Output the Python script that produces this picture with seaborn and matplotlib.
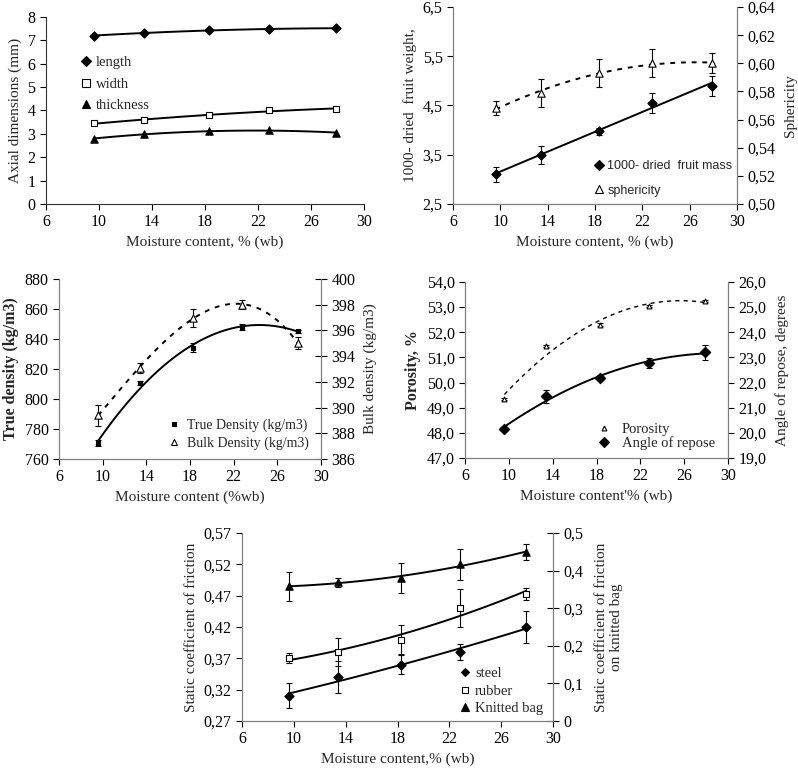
import numpy as np
import pandas as pd
import matplotlib
matplotlib.use("Agg")
import matplotlib.pyplot as plt
from matplotlib.lines import Line2D
from matplotlib.ticker import FuncFormatter
import seaborn as sns

# moisture content levels (% wb)
moisture = [9.6, 13.4, 18.3, 22.8, 27.9]

# axial dimensions (mm)
length = [7.20, 7.32, 7.42, 7.48, 7.52]
width = [3.45, 3.58, 3.80, 4.00, 4.07]
thickness = [2.80, 2.98, 3.10, 3.15, 3.05]

# 1000 fruit mass and sphericity
mass = [3.10, 3.50, 3.98, 4.55, 4.90]
mass_err = [0.15, 0.18, 0.07, 0.20, 0.20]
spher = [0.568, 0.579, 0.593, 0.600, 0.600]
spher_err = [0.005, 0.010, 0.010, 0.010, 0.007]

# densities
true_dens = [770.5, 810.5, 834.0, 848.3, 845.3]
true_err = [2.0, 1.5, 3.0, 2.0, 1.0]
bulk_dens = [389.4, 393.1, 397.0, 398.0, 395.0]
bulk_err = [0.8, 0.4, 0.7, 0.35, 0.45]

# porosity and angle of repose
porosity = [49.35, 51.45, 52.30, 53.05, 53.25]
poro_err = [0.03, 0.05, 0.05, 0.05, 0.03]
repose = [20.15, 21.45, 22.20, 22.78, 23.20]
repose_err = [0.05, 0.25, 0.10, 0.20, 0.30]

# static friction
steel = [0.310, 0.340, 0.360, 0.380, 0.420]
steel_err = [0.020, 0.025, 0.015, 0.013, 0.025]
rubber = [0.370, 0.380, 0.400, 0.450, 0.473]
rubber_err = [0.008, 0.022, 0.023, 0.030, 0.010]
knitted = [0.358, 0.369, 0.380, 0.417, 0.449]
knitted_err = [0.039, 0.012, 0.039, 0.041, 0.022]

sns.set_style("ticks")
plt.rcParams['font.family'] = ['Liberation Serif', 'DejaVu Serif']
plt.rcParams['font.size'] = 11
plt.rcParams['xtick.labelsize'] = 11.5
plt.rcParams['ytick.labelsize'] = 11.5

GRAY = "#7f7f7f"
fig = plt.figure(figsize=(7.98, 7.70), dpi=100)

# marker sizes (points^2 for scatter)
S = {'D': 22, 's': 24, '^': 28}


def comma(fmt):
    return FuncFormatter(lambda v, p: (fmt % v).replace('.', ','))


def fit_line(ax, y, deg, ls='-', lw=1.4):
    xs = np.linspace(moisture[0], moisture[-1], 100)
    c = np.polyfit(moisture, y, deg)
    d = pd.DataFrame({'x': xs, 'y': np.polyval(c, xs)})
    sns.lineplot(data=d, x='x', y='y', ax=ax, color='black', lw=lw, linestyle=ls)


def style_x(ax, label):
    ax.set_xlim(6, 30)
    ax.set_xticks([6, 10, 14, 18, 22, 26, 30])
    ax.set_xlabel(label, fontsize=11, labelpad=4)
    ax.tick_params(length=4, width=0.8, colors='black')


def gray_spines(ax, sides):
    for s in ax.spines:
        ax.spines[s].set_visible(s in sides)
        ax.spines[s].set_color(GRAY)


def pts(ax, y, marker, face, size=None, err=None):
    if size is None:
        size = S[marker]
    if err is not None:
        ax.errorbar(moisture, y, yerr=err, fmt='none', ecolor='black', elinewidth=0.8, capsize=2.5, capthick=0.8)
    d = pd.DataFrame({'x': moisture, 'y': y})
    sns.scatterplot(data=d, x='x', y='y', ax=ax, marker=marker, s=size, color=face,
                    edgecolor='black', linewidth=0.8, zorder=5)


def mk(marker, face, size=5):
    return Line2D([], [], linestyle='none', marker=marker, markersize=size,
                  markerfacecolor=face, markeredgecolor='black', markeredgewidth=0.8)


# ---- panel 1: axial dimensions
ax1 = fig.add_axes([0.0576, 0.7351, 0.3985, 0.2429])
for y, m, f in [(length, 'D', 'black'), (width, 's', 'white'), (thickness, '^', 'black')]:
    fit_line(ax1, y, 2)
    pts(ax1, y, m, f)
gray_spines(ax1, ['left', 'bottom'])
ax1.spines['left'].set_color('#333333')
ax1.spines['bottom'].set_color('#333333')
ax1.set_ylim(0, 8)
ax1.set_yticks(range(0, 9))
ax1.set_ylabel("Axial dimensions (mm)", fontsize=11)
style_x(ax1, "Moisture content, % (wb)")
ax1.legend([mk('D', 'black', 5), mk('s', 'white', 5.5), mk('^', 'black', 5.5)],
           ['length', 'width', 'thickness'], loc='upper left', bbox_to_anchor=(0.07, 0.86),
           frameon=False, fontsize=10.5, handlelength=0.6, handletextpad=0.4, labelspacing=0.55)

# ---- panel 2: mass and sphericity
ax2 = fig.add_axes([0.5677, 0.7351, 0.3559, 0.2558])
ax2r = ax2.twinx()
fit_line(ax2, mass, 1)
pts(ax2, mass, 'D', 'black', err=mass_err)
fit_line(ax2r, spher, 2, ls=(0, (2.5, 3)))
pts(ax2r, spher, '^', 'white', err=spher_err)
ax2.set_ylim(2.5, 6.5)
ax2.set_yticks([2.5, 3.5, 4.5, 5.5, 6.5])
ax2.yaxis.set_major_formatter(comma('%.1f'))
ax2r.set_ylim(0.50, 0.64)
ax2r.set_yticks(np.arange(0.50, 0.645, 0.02))
ax2r.yaxis.set_major_formatter(comma('%.2f'))
ax2.set_ylabel("1000- dried  fruit weight,", fontsize=11)
ax2r.set_ylabel("Sphericity", fontsize=11, labelpad=6)
style_x(ax2, "Moisture content, % (wb)")
ax2r.tick_params(length=4, width=0.8, colors='black')
gray_spines(ax2, ['left', 'bottom', 'right'])
gray_spines(ax2r, ['left', 'bottom', 'right'])
ax2.legend([mk('D', 'black', 5), mk('^', 'white', 5.5)], ['1000- dried  fruit mass', 'sphericity'],
           loc='lower left', bbox_to_anchor=(0.46, -0.02), frameon=False,
           prop={'family': 'Liberation Sans', 'size': 9}, handlelength=0.6, handletextpad=0.4,
           labelspacing=1.0)

# ---- panel 3: densities
ax3 = fig.add_axes([0.0739, 0.4039, 0.3283, 0.2338])
ax3r = ax3.twinx()
fit_line(ax3, true_dens, 2)
pts(ax3, true_dens, 's', 'black', size=8, err=true_err)
fit_line(ax3r, bulk_dens, 3, ls=(0, (2.5, 3)))
pts(ax3r, bulk_dens, '^', 'white', err=bulk_err)
ax3.set_ylim(760, 880)
ax3.set_yticks(range(760, 881, 20))
ax3r.set_ylim(386, 400)
ax3r.set_yticks(range(386, 401, 2))
ax3.set_ylabel("True density (kg/m3)", fontsize=11.5, fontweight='bold')
ax3r.set_ylabel("Bulk density (kg/m3)", fontsize=11, labelpad=6)
style_x(ax3, "Moisture content (%wb)")
ax3r.tick_params(axis='y', direction='inout', length=8, width=0.8, colors='black')
gray_spines(ax3, ['left', 'bottom', 'right'])
gray_spines(ax3r, ['left', 'bottom', 'right'])
ax3.legend([mk('s', 'black', 2.5), mk('^', 'white', 5)],
           ['True Density (kg/m3)', 'Bulk Density (kg/m3)'], loc='lower right',
           bbox_to_anchor=(1.0, -0.02), frameon=False, fontsize=10, handlelength=0.6,
           handletextpad=0.6, labelspacing=0.35)

# ---- panel 4: porosity and angle of repose
ax4 = fig.add_axes([0.5827, 0.4052, 0.3296, 0.2286])
ax4r = ax4.twinx()
fit_line(ax4, porosity, 2, ls=(0, (3, 3)), lw=1.0)
pts(ax4, porosity, '^', 'white', size=12, err=poro_err)
fit_line(ax4r, repose, 2)
pts(ax4r, repose, 'D', 'black', size=28, err=repose_err)
ax4.set_ylim(47, 54)
ax4.set_yticks(range(47, 55))
ax4.yaxis.set_major_formatter(comma('%.1f'))
ax4r.set_ylim(19, 26)
ax4r.set_yticks(range(19, 27))
ax4r.yaxis.set_major_formatter(comma('%.1f'))
ax4.set_ylabel("Porosity, %", fontsize=11.5, fontweight='bold')
ax4r.set_ylabel("Angle of repose, degrees", fontsize=11, labelpad=6)
style_x(ax4, "Moisture content'% (wb)")
ax4r.tick_params(length=4, width=0.8, colors='black')
gray_spines(ax4, ['left', 'bottom', 'right'])
gray_spines(ax4r, ['left', 'bottom', 'right'])
ax4.legend([mk('^', 'white', 3.5), mk('D', 'black', 5.5)], ['Porosity', 'Angle of repose'],
           loc='lower right', bbox_to_anchor=(1.0, -0.03), frameon=False, fontsize=10.5,
           handlelength=0.6, handletextpad=0.9, labelspacing=0.05)

# ---- panel 5: static friction
ax5 = fig.add_axes([0.3033, 0.0636, 0.3897, 0.2442])
ax5r = ax5.twinx()
fit_line(ax5, steel, 2)
pts(ax5, steel, 'D', 'black', err=steel_err)
fit_line(ax5, rubber, 2)
pts(ax5, rubber, 's', 'white', err=rubber_err)
fit_line(ax5r, knitted, 2)
pts(ax5r, knitted, '^', 'black', err=knitted_err)
ax5.set_ylim(0.27, 0.57)
ax5.set_yticks(np.arange(0.27, 0.571, 0.05))
ax5.yaxis.set_major_formatter(comma('%.2f'))
ax5r.set_ylim(0, 0.5)
ax5r.set_yticks(np.arange(0, 0.51, 0.1))
ax5r.yaxis.set_major_formatter(FuncFormatter(lambda v, p: '0' if abs(v) < 1e-9 else ('%.1f' % v).replace('.', ',')))
ax5.set_ylabel("Static coefficient of friction", fontsize=11)
ax5r.set_ylabel("Static coefficient of friction\non knitted bag", fontsize=11, labelpad=8)
style_x(ax5, "Moisture content,% (wb)")
ax5r.tick_params(axis='y', direction='inout', length=8, width=0.8, colors='black')
gray_spines(ax5, ['left', 'bottom', 'right'])
gray_spines(ax5r, ['left', 'bottom', 'right'])
ax5.legend([mk('D', 'black', 4.5), mk('s', 'white', 4.5), mk('^', 'black', 5.5)],
           ['steel', 'rubber', 'Knitted bag'], loc='lower left', bbox_to_anchor=(0.66, -0.04),
           frameon=False, fontsize=10.5, handlelength=0.6, handletextpad=0.4, labelspacing=0.3)

for a in [ax1, ax2, ax3, ax4, ax5]:
    a.set_zorder(2)
    a.patch.set_visible(False)

fig.savefig("out.png", dpi=100)
